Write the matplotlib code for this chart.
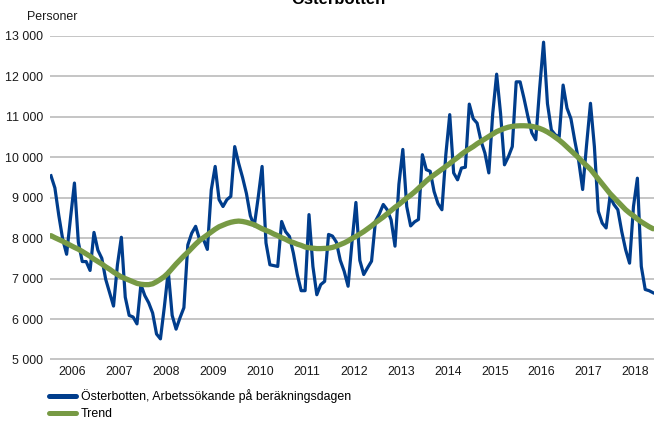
import matplotlib
matplotlib.use('Agg')
import matplotlib.pyplot as plt
from matplotlib.lines import Line2D

plt.rcParams['font.family'] = ['Liberation Sans', 'DejaVu Sans']

# ── Data: monthly values, Jan 2006 – Nov 2018 ────────────────────────────────
years = list(range(2006, 2019))

arbetssokande = [
    # 2006
    9540, 9240, 8560, 7970, 7600, 8500, 9360, 7900, 7420, 7420, 7200, 8140,
    # 2007
    7700, 7500, 6980, 6650, 6320, 7340, 8020, 6540, 6090, 6050, 5880, 6850,
    # 2008
    6580, 6400, 6150, 5630, 5510, 6300, 7180, 6090, 5750, 6030, 6280, 7830,
    # 2009
    8120, 8290, 7970, 7970, 7720, 9190, 9770, 8950, 8780, 8950, 9030, 10260,
    # 2010
    9850, 9500, 9100, 8550, 8300, 9000, 9770, 7880, 7340, 7320, 7300, 8410,
    # 2011
    8160, 8040, 7630, 7100, 6700, 6700, 8580, 7300, 6600, 6850, 6930, 8090,
    # 2012
    8050, 7900, 7450, 7180, 6810, 7900, 8880, 7450, 7100, 7270, 7430, 8420,
    # 2013
    8600, 8830, 8700, 8450, 7800, 9330, 10190, 8780, 8300, 8400, 8460, 10060,
    # 2014
    9690, 9650, 9150, 8850, 8700, 10060, 11050, 9610, 9440, 9730, 9750, 11310,
    # 2015
    10950, 10840, 10400, 10100, 9610, 11080, 12050, 11080, 9810, 10010, 10260, 11860,
    # 2016
    11860, 11450, 11000, 10600, 10430, 11700, 12840, 11320, 10670, 10550, 10500, 11780,
    # 2017
    11210, 10950, 10400, 9900, 9200, 10300, 11330, 10260, 8660, 8370, 8250, 9030,
    # 2018
    8830, 8700, 8160, 7710, 7380, 8780, 9480, 7300, 6730, 6700, 6650,
]

trend = [
    # 2006
    8060, 8010, 7965, 7920, 7870, 7820, 7770, 7725, 7670, 7610, 7550, 7480,
    # 2007
    7420, 7360, 7290, 7230, 7160, 7100, 7040, 7000, 6960, 6920, 6880, 6860,
    # 2008
    6850, 6850, 6870, 6920, 6980, 7050, 7140, 7250, 7360, 7460, 7560, 7650,
    # 2009
    7750, 7850, 7940, 8010, 8080, 8150, 8220, 8280, 8320, 8360, 8390, 8410,
    # 2010
    8420, 8410, 8390, 8360, 8330, 8280, 8230, 8190, 8150, 8100, 8060, 8010,
    # 2011
    7970, 7920, 7890, 7850, 7820, 7780, 7760, 7750, 7740, 7740, 7745, 7750,
    # 2012
    7770, 7800, 7840, 7880, 7930, 7990, 8040, 8100, 8160, 8230, 8300, 8380,
    # 2013
    8450, 8520, 8600, 8680, 8760, 8830, 8910, 8990, 9060, 9140, 9230, 9320,
    # 2014
    9410, 9490, 9560, 9630, 9700, 9770, 9840, 9920, 9990, 10070, 10140, 10200,
    # 2015
    10260, 10330, 10390, 10450, 10510, 10570, 10630, 10670, 10710, 10740, 10760, 10770,
    # 2016
    10775, 10775, 10770, 10760, 10740, 10710, 10670, 10620, 10560, 10490, 10420, 10340,
    # 2017
    10250, 10160, 10070, 9980, 9880, 9790, 9700, 9580, 9460, 9340, 9220, 9100,
    # 2018
    9000, 8900, 8800, 8700, 8620, 8550, 8470, 8400, 8340, 8280, 8230,
]

y_ticks = list(range(5000, 13001, 1000))

series_label = 'Österbotten, Arbetssökande på beräkningsdagen'
trend_label = 'Trend'

# ── Figure ──────────────────────────────────────────────────────────────────
W, H = 656, 421
fig = plt.figure(figsize=(W / 100, H / 100), dpi=100)
ax = fig.add_axes([50 / W, 1 - 359.5 / H, 604 / W, (359.5 - 35.7) / H])

blue = '#003d8c'
green = '#779a44'
fs = 8.9

months = list(range(len(arbetssokande)))
ax.plot(months, arbetssokande, color=blue, lw=2.3, solid_joinstyle='round', zorder=3)
ax.plot(list(range(len(trend))), trend, color=green, lw=3.8,
        solid_capstyle='round', zorder=4)

ax.set_ylim(5000, 13000)
ax.set_xlim(-0.25, len(arbetssokande) - 0.75)
ax.set_yticks(y_ticks)
ax.set_yticklabels([f'{v:,}'.replace(',', ' ') for v in y_ticks])
ax.set_xticks([12 * k + 5.5 for k in range(len(years))])
ax.set_xticklabels([str(y) for y in years])
ax.tick_params(axis='both', length=0, labelsize=fs, colors='#1a1a1a')
ax.tick_params(axis='y', pad=5)
ax.tick_params(axis='x', pad=5)
ax.grid(axis='y', color='#c0c0c0', lw=1.3)
ax.set_axisbelow(True)
for s in ax.spines.values():
    s.set_visible(False)

fig.text(27 / W, 1 - 17 / H, 'Personer', fontsize=fs, va='center', ha='left',
         color='#1a1a1a')
# the title sits mostly above the canvas, as in the source image
fig.text(338 / W, 1 - 3.5 / H, 'Österbotten', fontsize=12, fontweight='bold',
         ha='center', va='baseline')

handles = [Line2D([], [], color=blue, lw=3.6, solid_capstyle='round'),
           Line2D([], [], color=green, lw=3.6, solid_capstyle='round')]
fig.legend(handles, [series_label, trend_label], loc='upper left',
           bbox_to_anchor=(49 / W, 1 - 389 / H), frameon=False, fontsize=fs,
           handlelength=2.2, handletextpad=0.4, labelspacing=0.45,
           borderaxespad=0, borderpad=0)

fig.savefig('out.png', dpi=100)
